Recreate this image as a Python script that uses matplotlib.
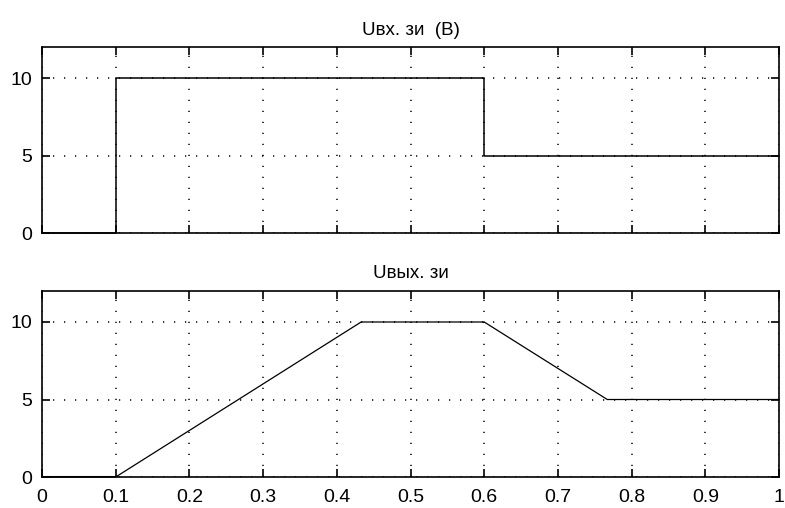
import matplotlib
matplotlib.use("Agg")
import matplotlib.pyplot as plt

# data
t_in = [0.0, 0.1, 0.1, 0.6, 0.6, 1.0]
u_in = [0.0, 0.0, 10.0, 10.0, 5.0, 5.0]
t_out = [0.0, 0.1, 0.433, 0.6, 0.767, 1.0]
u_out = [0.0, 0.0, 10.0, 10.0, 5.0, 5.0]
x_ticks = [0, 0.1, 0.2, 0.3, 0.4, 0.5, 0.6, 0.7, 0.8, 0.9, 1]
x_labels = ["0", "0.1", "0.2", "0.3", "0.4", "0.5", "0.6", "0.7", "0.8", "0.9", "1"]
y_ticks = [0, 5, 10]
titles = ["Uвх. зи  (В)", "Uвых. зи"]

plt.rcParams['font.family'] = ['Liberation Sans', 'DejaVu Sans']

fig = plt.figure(figsize=(7.85, 5.08), dpi=100)
W, H = 785, 508
boxes = [(42, 47, 779, 233), (42, 291, 779, 477)]
series = [(t_in, u_in), (t_out, u_out)]

for i, ((l, t, r, b), (xs, ys)) in enumerate(zip(boxes, series)):
    ax = fig.add_axes([l / W, 1 - b / H, (r - l) / W, (b - t) / H])
    ax.plot(xs, ys, color='black', lw=1.1 if i == 0 else 0.9, clip_on=False, zorder=3)
    if i == 1:
        ax.plot([0, 0.1], [0, 0], color='black', lw=2.2, zorder=3)
    ax.set_xlim(0, 1)
    ax.set_ylim(0, 12)
    ax.set_xticks(x_ticks)
    ax.set_yticks(y_ticks)
    if i == 1:
        ax.set_xticklabels(x_labels)
    else:
        ax.set_xticklabels([])
    ax.tick_params(direction='in', length=6, width=1.2, top=True, right=True,
                   labelsize=14, pad=7, colors='black')
    ax.tick_params(axis='x', pad=9)
    ax.grid(True, color='black', lw=1.1, linestyle=(0, (0.8, 6.4)))
    for s in ax.spines.values():
        s.set_linewidth(1.2)
    ax.set_title(titles[i], fontsize=13.5, pad=9)

fig.savefig("out.png", dpi=100)
